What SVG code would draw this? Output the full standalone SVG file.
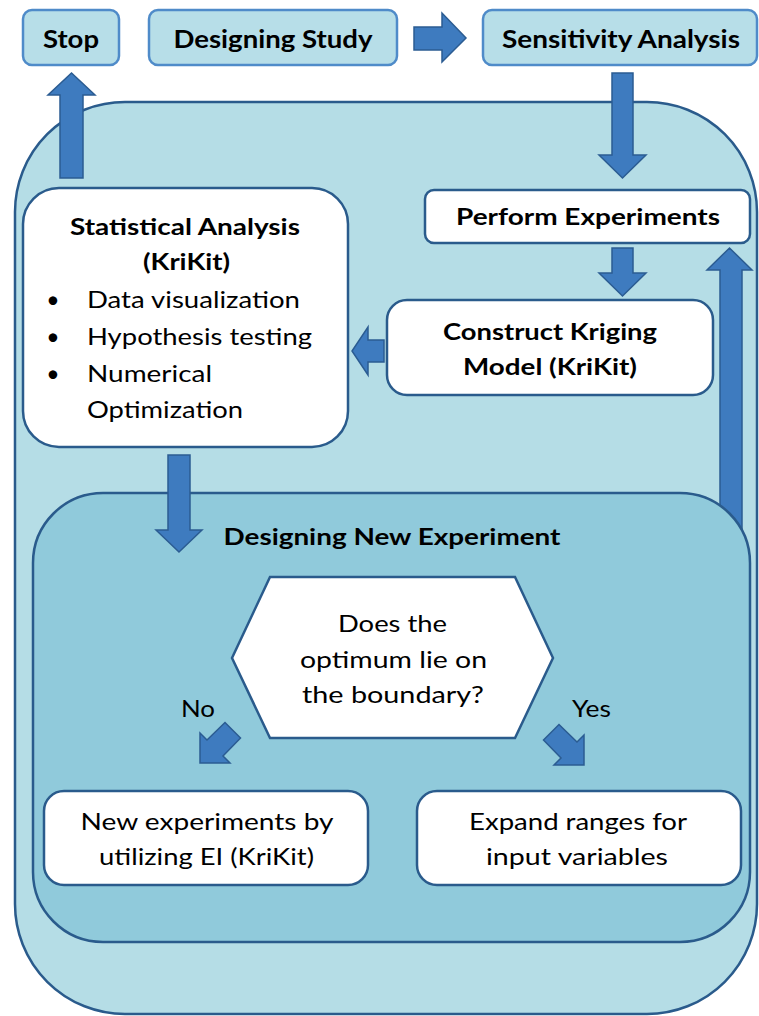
<svg xmlns="http://www.w3.org/2000/svg" width="759" height="1016" viewBox="0 0 759 1016">
  <style>
    .top { fill: #b7dee8; stroke: #4f8bc9; stroke-width: 2.5; }
    .outer { fill: #b5dde6; stroke: #2a5b8c; stroke-width: 2.5; }
    .inner { fill: #90cadb; stroke: #2a5b8c; stroke-width: 2.5; }
    .box { fill: #ffffff; stroke: #2a5b8c; stroke-width: 2.5; }
    .arrow { fill: #3e7bbf; stroke: #2b5c92; stroke-width: 1.5; stroke-linejoin: miter; }
    text { font-family: Lato, "Liberation Sans", sans-serif; fill: #000; }
    .b { font-weight: bold; font-size: 23px; }
    .bt { font-weight: bold; font-size: 25px; }
    .r { font-size: 23px; }
    .c { text-anchor: middle; }
  </style>

  <!-- container regions -->
  <rect id="loop" class="outer" x="15" y="102" width="742" height="912" rx="110" ry="110"/>

  <g id="connectors">
    <!-- Stop <- loop -->
    <path class="arrow" d="M60,178 L60,95 L48,95 L71.5,73 L95,95 L83,95 L83,178 Z"/>
    <!-- Designing Study -> Sensitivity Analysis -->
    <path class="arrow" d="M414,27 L442,27 L442,13 L466,38 L442,62 L442,50 L414,50 Z"/>
    <!-- Sensitivity Analysis -> Perform Experiments -->
    <path class="arrow" d="M612,73 L633,73 L633,155 L646,155 L622.5,178 L599,155 L612,155 Z"/>
    <!-- Perform Experiments -> Construct Kriging Model -->
    <path class="arrow" d="M612,248 L633,248 L633,273 L646,273 L622.5,296 L599,273 L612,273 Z"/>
    <!-- Construct Kriging Model -> Statistical Analysis -->
    <path class="arrow" d="M384,340 L368,340 L368,327 L352,351 L368,375 L368,362 L384,362 Z"/>
    <!-- New experiment design -> Perform Experiments -->
    <path class="arrow" d="M720,600 L720,270 L707,270 L729.5,248 L752,270 L742,270 L742,600 Z"/>
  </g>

  <g id="design-new-experiment">
    <rect class="inner" x="33" y="493" width="717" height="449" rx="70" ry="70"/>
    <text class="b c" x="392" y="545" textLength="337" lengthAdjust="spacingAndGlyphs">Designing New Experiment</text>
  </g>

  <g id="connectors-inner">
    <!-- Statistical Analysis -> Designing New Experiment -->
    <path class="arrow" d="M168,455 L190,455 L190,530 L202,530 L179,552 L156,530 L168,530 Z"/>
    <!-- No branch -->
    <path class="arrow" d="M200,763 L200,733 L207,740 L225,722.5 L240.5,738 L223,756 L230,763 Z"/>
    <!-- Yes branch -->
    <path class="arrow" d="M584,765 L584,735 L577,742 L559,724.5 L543.5,740 L561,758 L554,765 Z"/>
    <text class="r" x="181" y="717" textLength="34" lengthAdjust="spacingAndGlyphs">No</text>
    <text class="r" x="572" y="717" textLength="39" lengthAdjust="spacingAndGlyphs">Yes</text>
  </g>

  <g id="stop">
    <rect class="top" x="23" y="10" width="96" height="55" rx="9"/>
    <text class="bt c" x="71" y="48" textLength="56" lengthAdjust="spacingAndGlyphs">Stop</text>
  </g>

  <g id="designing-study">
    <rect class="top" x="149" y="10" width="248" height="55" rx="9"/>
    <text class="bt c" x="273" y="48" textLength="199" lengthAdjust="spacingAndGlyphs">Designing Study</text>
  </g>

  <g id="sensitivity-analysis">
    <rect class="top" x="483" y="10" width="274" height="55" rx="9"/>
    <text class="bt c" x="621" y="48" textLength="238" lengthAdjust="spacingAndGlyphs">Sensitivity Analysis</text>
  </g>

  <g id="perform-experiments">
    <rect class="box" x="425" y="190" width="325" height="53" rx="9"/>
    <text class="b c" x="588" y="225" textLength="264" lengthAdjust="spacingAndGlyphs">Perform Experiments</text>
  </g>

  <g id="construct-kriging">
    <rect class="box" x="387" y="300" width="326" height="95" rx="20"/>
    <text class="b c" x="550" y="340" textLength="214" lengthAdjust="spacingAndGlyphs">Construct Kriging</text>
    <text class="b c" x="550" y="375" textLength="174" lengthAdjust="spacingAndGlyphs">Model (KriKit)</text>
  </g>

  <g id="statistical-analysis">
    <rect class="box" x="23" y="188" width="325" height="259" rx="36"/>
    <text class="b c" x="185" y="235" textLength="230" lengthAdjust="spacingAndGlyphs">Statistical Analysis</text>
    <text class="b c" x="186.5" y="270" textLength="87" lengthAdjust="spacingAndGlyphs">(KriKit)</text>
    <text class="r c" x="53" y="308">•</text>
    <text class="r" x="87" y="308" textLength="213" lengthAdjust="spacingAndGlyphs">Data visualization</text>
    <text class="r c" x="53" y="345">•</text>
    <text class="r" x="87" y="345" textLength="225" lengthAdjust="spacingAndGlyphs">Hypothesis testing</text>
    <text class="r c" x="53" y="382">•</text>
    <text class="r" x="87" y="382" textLength="125" lengthAdjust="spacingAndGlyphs">Numerical</text>
    <text class="r" x="87" y="418" textLength="156" lengthAdjust="spacingAndGlyphs">Optimization</text>
  </g>

  <g id="boundary-question">
    <polygon class="box" points="232,658 270,577 515,577 553,658 515,738 270,738"/>
    <text class="r c" x="392.5" y="632" textLength="109" lengthAdjust="spacingAndGlyphs">Does the</text>
    <text class="r c" x="393.5" y="668" textLength="187" lengthAdjust="spacingAndGlyphs">optimum lie on</text>
    <text class="r c" x="393" y="703" textLength="182" lengthAdjust="spacingAndGlyphs">the boundary?</text>
  </g>

  <g id="new-experiments-ei">
    <rect class="box" x="44" y="791" width="324" height="94" rx="20"/>
    <text class="r c" x="207" y="830" textLength="253" lengthAdjust="spacingAndGlyphs">New experiments by</text>
    <text class="r c" x="206.5" y="865" textLength="215" lengthAdjust="spacingAndGlyphs">utilizing EI (KriKit)</text>
  </g>

  <g id="expand-ranges">
    <rect class="box" x="417" y="791" width="324" height="94" rx="20"/>
    <text class="r c" x="578" y="830" textLength="218" lengthAdjust="spacingAndGlyphs">Expand ranges for</text>
    <text class="r c" x="577" y="865" textLength="182" lengthAdjust="spacingAndGlyphs">input variables</text>
  </g>
</svg>
